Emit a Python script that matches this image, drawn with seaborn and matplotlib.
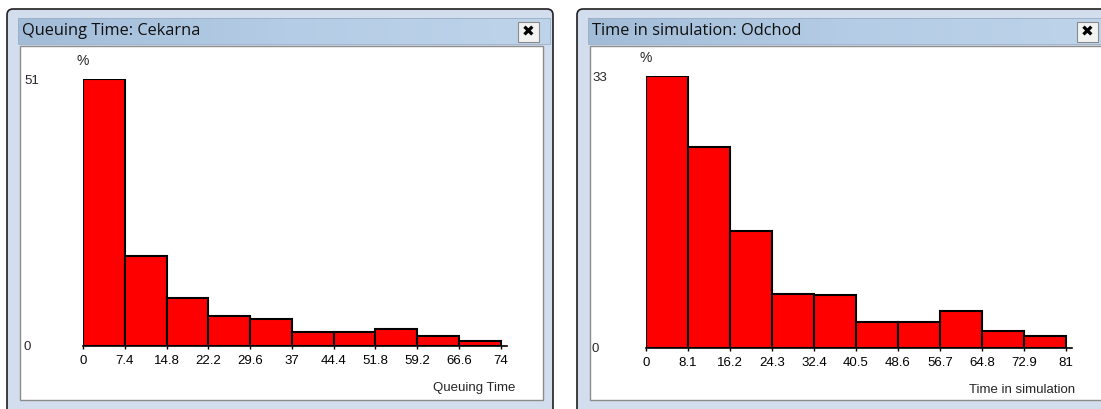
import numpy as np
import seaborn as sns
import matplotlib.pyplot as plt
from matplotlib.patches import Rectangle, FancyBboxPatch
from matplotlib.colors import LinearSegmentedColormap

# histogram data (% per bin)
queue_edges = [0, 7.4, 14.8, 22.2, 29.6, 37, 44.4, 51.8, 59.2, 66.6, 74]
queue_pct = [51, 17.1, 9.1, 5.7, 5.2, 2.6, 2.6, 3.2, 2.0, 1.0]
queue_title = 'Queuing Time: Cekarna'
queue_xlabel = 'Queuing Time'
queue_ymax = 51

sim_edges = [0, 8.1, 16.2, 24.3, 32.4, 40.5, 48.6, 56.7, 64.8, 72.9, 81]
sim_pct = [33, 24.4, 14.2, 6.5, 6.4, 3.2, 3.2, 4.5, 2.1, 1.4]
sim_title = 'Time in simulation: Odchod'
sim_xlabel = 'Time in simulation'
sim_ymax = 33

sns.set_style('white')
plt.rcParams['font.family'] = ['Liberation Sans', 'DejaVu Sans']

W, H = 1101, 409
fig = plt.figure(figsize=(W / 100, H / 100), dpi=100)
fig.patch.set_facecolor('white')

# background axes in pixel coords for the window chrome
bg = fig.add_axes([0, 0, 1, 1], zorder=-1)
bg.set_xlim(0, W)
bg.set_ylim(H, 0)
bg.axis('off')

grad = np.linspace(0, 1, 256).reshape(1, -1)
title_cmap = LinearSegmentedColormap.from_list('tb', ['#a2bcd8', '#b4cce5', '#bdd4ea'])


def draw_window(x0, x1, title):
    # outer frame
    bg.add_patch(FancyBboxPatch((x0, 9), x1 - x0, 420, boxstyle='round,pad=0,rounding_size=6',
                                facecolor='#d2deed', edgecolor='#202020', linewidth=1.2))
    # title bar
    bg.imshow(grad, cmap=title_cmap, aspect='auto', extent=(x0 + 11, x1 - 3, 44, 18), zorder=2)
    bg.add_patch(Rectangle((x0 + 11, 18), x1 - x0 - 14, 26, fill=False, edgecolor='#9aafc6',
                           linewidth=0.6, zorder=3))
    bg.text(x0 + 15, 31, title, fontsize=11.8, va='center', ha='left', color='#101010',
            family=['Open Sans', 'DejaVu Sans'], zorder=4)
    # close button
    bx = x1 - 35
    bg.add_patch(Rectangle((bx, 22), 21, 20, facecolor='#f2f2f2', edgecolor='#8a8a8a',
                           linewidth=0.8, zorder=4))
    bg.text(bx + 10.5, 32, '✖', fontsize=11, ha='center', va='center',
            color='black', family=['DejaVu Sans'], zorder=5)
    # white client area
    bg.add_patch(Rectangle((x0 + 13, 46), x1 - x0 - 23, 354, facecolor='white',
                           edgecolor='#8c8c8c', linewidth=1.0, zorder=2))


draw_window(7, 553, queue_title)
draw_window(577, 1112, sim_title)


def draw_hist(px0, px1, py0, py1, edges, pct, ymax, xlabel, lab_x, lab_end):
    ax = fig.add_axes([px0 / W, (H - py0) / H, (px1 - px0) / W, (py0 - py1) / H])
    ax.set_facecolor('none')
    sns.histplot(x=edges[:-1], weights=pct, bins=edges, color='red', edgecolor='black',
                 linewidth=1.5, alpha=1, ax=ax)
    ax.set_xlim(0, edges[-1] * 1.015)
    ax.set_ylim(0, ymax)
    for s in ['top', 'right', 'left']:
        ax.spines[s].set_visible(False)
    ax.spines['bottom'].set_color('black')
    ax.spines['bottom'].set_linewidth(1.2)
    ax.set_xticks(edges)
    ax.set_xticklabels([f'{e:g}' for e in edges], fontsize=9.5)
    ax.tick_params(axis='x', length=2.5, width=1, pad=4, colors='black', bottom=True)
    ax.set_yticks([0, ymax])
    ax.set_yticklabels(['0', str(ymax)], fontsize=9.5)
    pad = (px0 - lab_x) * 0.72
    ax.tick_params(axis='y', length=0, pad=pad, left=True)
    for t in ax.get_yticklabels():
        t.set_horizontalalignment('left')
    ax.set_ylabel('')
    ax.set_xlabel(xlabel, fontsize=9.5, loc='right')
    ax.xaxis.set_label_coords((lab_end - px0) / (px1 - px0), -0.133)
    ax.annotate('%', xy=(0, 1), xycoords='axes fraction', xytext=(0, 13),
                textcoords='offset points', ha='center', va='center', fontsize=10)
    ax.grid(False)
    return ax


draw_hist(83, 507, 346, 79, queue_edges, queue_pct, queue_ymax, queue_xlabel, 24, 515)
draw_hist(646, 1072, 348, 76, sim_edges, sim_pct, sim_ymax, sim_xlabel, 592, 1075)

fig.savefig('out.png', dpi=100)
